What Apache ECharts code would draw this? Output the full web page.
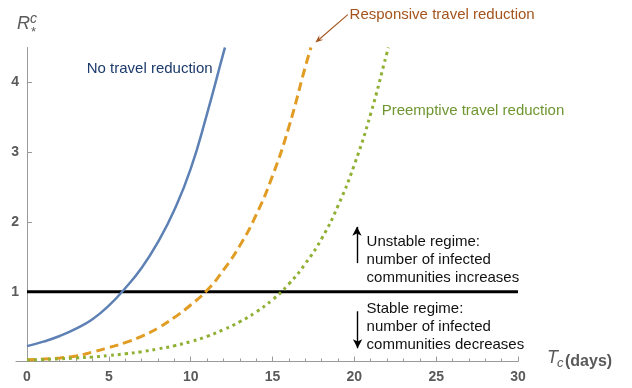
<!DOCTYPE html>
<html>
<head>
<meta charset="utf-8">
<script src="https://cdn.jsdelivr.net/npm/echarts@6/dist/echarts.min.js"></script>
<style>
  html, body { margin: 0; padding: 0; background: #fff; }
  #chart { width: 632px; height: 388px; }
</style>
</head>
<body>
<div id="chart"></div>
<script>
// Critical community reproduction number R*^c versus travel/contact time Tc (days)
const daysNone = [0, 1, 2, 3, 4, 5, 6, 7, 8, 9, 10, 11, 12, 12.1];
const rNone = [0.22, 0.285, 0.365, 0.47, 0.605, 0.80, 1.05, 1.34, 1.71, 2.17, 2.76, 3.55, 4.42, 4.5];

const daysResponsive = [0, 1, 2, 3, 4, 5, 6, 7, 8, 9, 10, 11, 12, 13, 14, 15, 16, 17, 17.35];
const rResponsive = [0.025, 0.035, 0.05, 0.08, 0.135, 0.20, 0.27, 0.36, 0.48, 0.63, 0.81, 1.02, 1.31, 1.66, 2.10, 2.66, 3.36, 4.22, 4.5];

const daysPreemptive = [0, 1, 2, 3, 4, 5, 6, 7, 8, 9, 10, 11, 12, 13, 14, 15, 16, 17, 18, 19, 20, 21, 22, 22.08];
const rPreemptive = [0.02, 0.028, 0.038, 0.05, 0.065, 0.085, 0.11, 0.14, 0.18, 0.225, 0.285, 0.36, 0.455, 0.57, 0.71, 0.885, 1.11, 1.40, 1.76, 2.23, 2.82, 3.55, 4.43, 4.5];

const threshold = 1;
const xTicks = [0, 5, 10, 15, 20, 25, 30];
const yTicks = [1, 2, 3, 4];

const seriesNames = ['No travel reduction', 'Responsive travel reduction', 'Preemptive travel reduction'];
const unstableText = 'Unstable regime:\nnumber of infected\ncommunities increases';
const stableText = 'Stable regime:\nnumber of infected\ncommunities decreases';

const FONT = '"Liberation Sans", Arial, Helvetica, sans-serif';
const AXIS_GRAY = '#9a9a9a';
const LABEL_GRAY = '#5a5a5a';
const BROWN = '#a4541c';

const pairs = (xs, ys) => xs.map((x, i) => [x, ys[i]]);

const chart = echarts.init(document.getElementById('chart'), null, { renderer: 'canvas' });

chart.setOption({
  animation: false,
  grid: { left: 27, right: 114, top: 47.5, bottom: 26.5 },
  xAxis: {
    type: 'value', min: 0, max: 30, interval: 5,
    axisLine: { show: true, onZero: false, lineStyle: { color: AXIS_GRAY, width: 1 } },
    axisTick: { show: true, inside: true, length: 5, customValues: xTicks, lineStyle: { color: AXIS_GRAY } },
    minorTick: { show: true, splitNumber: 5, length: 3, lineStyle: { color: AXIS_GRAY } },
    axisLabel: { customValues: xTicks, color: LABEL_GRAY, fontWeight: 'bold', fontSize: 14, fontFamily: FONT, margin: 9 },
    splitLine: { show: false }
  },
  yAxis: {
    type: 'value', min: 0, max: 4.5, interval: 1,
    axisLine: { show: true, onZero: false, lineStyle: { color: AXIS_GRAY, width: 1 } },
    axisTick: { show: true, inside: true, length: 5, customValues: yTicks, lineStyle: { color: AXIS_GRAY } },
    axisLabel: { customValues: yTicks, color: LABEL_GRAY, fontWeight: 'bold', fontSize: 14, fontFamily: FONT, margin: 8 },
    splitLine: { show: false }
  },
  series: [
    {
      name: 'threshold', type: 'line', data: [[0, threshold], [30, threshold]],
      showSymbol: false, symbol: 'none', silent: true, z: 1,
      lineStyle: { color: '#000', width: 3 },
      markLine: {
        silent: true, animation: false,
        symbol: ['none', 'arrow'], symbolSize: [7, 9],
        label: { show: false },
        lineStyle: { color: '#000', width: 1.4, type: 'solid' },
        data: [
          [{ coord: [20.16, 1.41] }, { coord: [20.16, 1.93] }],
          [{ coord: [20.2, 0.72] }, { coord: [20.2, 0.19] }]
        ]
      }
    },
    {
      name: seriesNames[0], type: 'line', data: pairs(daysNone, rNone),
      smooth: 0.5, showSymbol: false, symbol: 'none', z: 3,
      lineStyle: { color: '#5E81B5', width: 2.5 }
    },
    {
      name: seriesNames[1], type: 'line', data: pairs(daysResponsive, rResponsive),
      smooth: 0.5, showSymbol: false, symbol: 'none', z: 3,
      lineStyle: { color: '#E19C24', width: 3, type: [9, 5] }
    },
    {
      name: seriesNames[2], type: 'line', data: pairs(daysPreemptive, rPreemptive),
      smooth: 0.5, showSymbol: false, symbol: 'none', z: 3,
      lineStyle: { color: '#8FB032', width: 3, type: [3, 4] }
    }
  ]
});

// Text annotations anchored in data coordinates
const px = p => chart.convertToPixel({ gridIndex: 0 }, p);
const origin = px([0, 0]);
const topLeft = px([0, 4.5]);
const axisEnd = px([30, 0]);
const leftStub = px([-0.7, 0]);

const textEl = (pos, text, color, extra) => ({
  type: 'text', x: pos[0], y: pos[1], silent: true,
  style: Object.assign({
    text: text, fill: color, fontSize: 15, fontFamily: FONT,
    align: 'left', verticalAlign: 'middle', lineHeight: 18
  }, extra || {})
});

// pointer from the responsive label to the end of its curve
const arrowFrom = px([19.6, 4.97]);
const arrowTo = px([17.62, 4.57]);
const ang = Math.atan2(arrowTo[1] - arrowFrom[1], arrowTo[0] - arrowFrom[0]);
const headLen = 8, headHalf = 3.2;
const baseX = arrowTo[0] - headLen * Math.cos(ang), baseY = arrowTo[1] - headLen * Math.sin(ang);
const head = [
  [arrowTo[0], arrowTo[1]],
  [baseX + headHalf * Math.sin(ang), baseY - headHalf * Math.cos(ang)],
  [arrowTo[0] - 0.6 * headLen * Math.cos(ang), arrowTo[1] - 0.6 * headLen * Math.sin(ang)],
  [baseX - headHalf * Math.sin(ang), baseY + headHalf * Math.cos(ang)]
];

chart.setOption({
  graphic: [
    // short stretch of the horizontal axis left of the origin
    { type: 'line', silent: true, shape: { x1: leftStub[0], y1: origin[1], x2: origin[0], y2: origin[1] },
      style: { stroke: AXIS_GRAY, lineWidth: 1 } },
    { type: 'line', silent: true, shape: { x1: arrowFrom[0], y1: arrowFrom[1], x2: head[2][0], y2: head[2][1] },
      style: { stroke: BROWN, lineWidth: 1.1 } },
    { type: 'polygon', silent: true, shape: { points: head }, style: { fill: BROWN } },
    textEl(px([3.65, 4.19]), seriesNames[0], '#1c3a6c'),
    textEl(px([19.71, 4.97]), seriesNames[1], BROWN),
    textEl(px([21.67, 3.59]), seriesNames[2], '#6f9630'),
    textEl(px([20.75, 1.46]), unstableText, '#111'),
    textEl(px([20.75, 0.50]), stableText, '#111'),
    // y-axis title R*^c
    { type: 'text', x: topLeft[0] - 10, y: topLeft[1] - 15, silent: true,
      style: { text: 'R', fill: LABEL_GRAY, fontSize: 18, fontStyle: 'italic', fontFamily: FONT, verticalAlign: 'bottom' } },
    { type: 'text', x: topLeft[0] + 3, y: topLeft[1] - 21, silent: true,
      style: { text: 'c', fill: LABEL_GRAY, fontSize: 14, fontStyle: 'italic', fontFamily: FONT, verticalAlign: 'bottom' } },
    { type: 'text', x: topLeft[0] + 4, y: topLeft[1] - 9, silent: true,
      style: { text: '*', fill: LABEL_GRAY, fontSize: 13, fontFamily: FONT, verticalAlign: 'bottom' } },
    // x-axis title Tc (days)
    { type: 'text', x: axisEnd[0] + 29, y: axisEnd[1] + 5, silent: true,
      style: { text: 'T', fill: LABEL_GRAY, fontSize: 18, fontStyle: 'italic', fontFamily: FONT, verticalAlign: 'bottom' } },
    { type: 'text', x: axisEnd[0] + 39, y: axisEnd[1] + 8, silent: true,
      style: { text: 'c', fill: LABEL_GRAY, fontSize: 13, fontStyle: 'italic', fontFamily: FONT, verticalAlign: 'bottom' } },
    { type: 'text', x: axisEnd[0] + 47, y: axisEnd[1] + 8, silent: true,
      style: { text: '(days)', fill: LABEL_GRAY, fontSize: 16, fontWeight: 'bold', fontFamily: FONT, verticalAlign: 'bottom' } }
  ]
});
</script>
</body>
</html>
